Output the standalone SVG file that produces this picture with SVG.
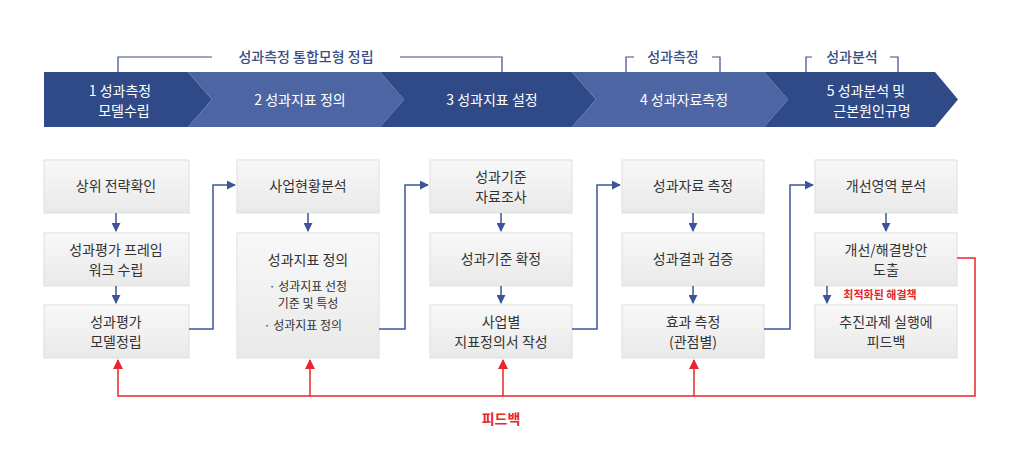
<svg xmlns="http://www.w3.org/2000/svg" width="1032" height="456" viewBox="0 0 1032 456">
<defs>
<linearGradient id="g" x1="0" y1="0" x2="0" y2="1"><stop offset="0" stop-color="#f8f8f8"/><stop offset="1" stop-color="#e9e9e9"/></linearGradient>
<marker id="ab" viewBox="0 0 10 10" refX="9" refY="5" markerWidth="9" markerHeight="9" markerUnits="userSpaceOnUse" orient="auto"><path d="M0,0L10,5L0,10z" fill="#3b5598"/></marker>
<marker id="ar" viewBox="0 0 10 10" refX="9" refY="5" markerWidth="10" markerHeight="10" markerUnits="userSpaceOnUse" orient="auto"><path d="M0,0L10,5L0,10z" fill="#e8262b"/></marker>
</defs>
<style>
text{font-family:"Noto Sans CJK KR","Noto Sans",sans-serif;text-anchor:middle}
.t{font-size:14px;fill:#333}
.s{font-size:12px;fill:#333}
.w{font-size:14px;fill:#fff}
.h{font-size:14px;fill:#3a4e85;font-weight:500}
.box{fill:url(#g);stroke:#dedede;stroke-width:1}
.b{fill:none;stroke:#3b5598;stroke-width:1.5}
.r{fill:none;stroke:#e8262b;stroke-width:1.5}
.br{fill:none;stroke:#3a4e85;stroke-width:1.2}
</style>
<g id="brackets">
<path class="br" d="M118,72V57H212M400,57H502V72"/>
<text class="h" x="306" y="62">성과측정 통합모형 정립</text>
<path class="br" d="M626,72V57H634M712,57H720V72"/>
<text class="h" x="673" y="62">성과측정</text>
<path class="br" d="M806,72V57H812M890,57H898V72"/>
<text class="h" x="852" y="62">성과분석</text>
</g>
<g id="banner">
<path d="M44,72H188L212,99.5L188,127H44Z" fill="#2f4a87"/>
<path d="M188,72H380L404,99.5L380,127H188L212,99.5Z" fill="#4d66a3"/>
<path d="M380,72H572L596,99.5L572,127H380L404,99.5Z" fill="#2f4a87"/>
<path d="M572,72H764L788,99.5L764,127H572L596,99.5Z" fill="#4d66a3"/>
<path d="M764,72H935L958,99.5L935,127H764L788,99.5Z" fill="#2f4a87"/>
<text class="w" x="120" y="96">1 성과측정</text><text class="w" x="124" y="116">모델수립</text>
<text class="w" x="300" y="105">2 성과지표 정의</text>
<text class="w" x="492" y="105">3 성과지표 설정</text>
<text class="w" x="684" y="105">4 성과자료측정</text>
<text class="w" x="866" y="96">5 성과분석 및</text><text class="w" x="872" y="116">근본원인규명</text>
</g>
<g id="n11"><rect class="box" x="44" y="160" width="145" height="53"/><text class="t" x="116" y="191">상위 전략확인</text></g>
<g id="n12"><rect class="box" x="44" y="233" width="145" height="53"/><text class="t" x="116" y="255">성과평가 프레임</text><text class="t" x="116" y="275">워크 수립</text></g>
<g id="n13"><rect class="box" x="44" y="305" width="145" height="53"/><text class="t" x="116" y="327">성과평가</text><text class="t" x="116" y="347">모델정립</text></g>
<g id="n21"><rect class="box" x="237" y="160" width="142" height="53"/><text class="t" x="308" y="191">사업현황분석</text></g>
<g id="n22"><rect class="box" x="237" y="233" width="142" height="125"/><text class="t" x="308" y="265">성과지표 정의</text>
<text class="s" x="308" y="291">· 성과지표 선정</text><text class="s" x="308" y="308">기준 및 특성</text><text class="s" x="303" y="330">· 성과지표 정의</text></g>
<g id="n31"><rect class="box" x="430" y="160" width="142" height="53"/><text class="t" x="501" y="182">성과기준</text><text class="t" x="501" y="202">자료조사</text></g>
<g id="n32"><rect class="box" x="430" y="233" width="142" height="53"/><text class="t" x="501" y="264">성과기준 확정</text></g>
<g id="n33"><rect class="box" x="430" y="305" width="142" height="53"/><text class="t" x="501" y="327">사업별</text><text class="t" x="501" y="347">지표정의서 작성</text></g>
<g id="n41"><rect class="box" x="622" y="160" width="142" height="53"/><text class="t" x="693" y="191">성과자료 측정</text></g>
<g id="n42"><rect class="box" x="622" y="233" width="142" height="53"/><text class="t" x="693" y="264">성과결과 검증</text></g>
<g id="n43"><rect class="box" x="622" y="305" width="142" height="53"/><text class="t" x="693" y="327">효과 측정</text><text class="t" x="693" y="347">(관점별)</text></g>
<g id="n51"><rect class="box" x="815" y="160" width="142" height="53"/><text class="t" x="886" y="191">개선영역 분석</text></g>
<g id="n52"><rect class="box" x="815" y="233" width="142" height="53"/><text class="t" x="886" y="255">개선/해결방안</text><text class="t" x="886" y="275">도출</text></g>
<g id="n53"><rect class="box" x="815" y="305" width="142" height="53"/><text class="t" x="886" y="327">추진과제 실행에</text><text class="t" x="886" y="347">피드백</text></g>
<g id="connectors">
<path class="b" d="M116,213V231" marker-end="url(#ab)"/>
<path class="b" d="M116,286V303" marker-end="url(#ab)"/>
<path class="b" d="M189,329H213V185H235" marker-end="url(#ab)"/>
<path class="b" d="M308,213V231" marker-end="url(#ab)"/>
<path class="b" d="M379,329H405V185H428" marker-end="url(#ab)"/>
<path class="b" d="M501,213V231" marker-end="url(#ab)"/>
<path class="b" d="M501,286V303" marker-end="url(#ab)"/>
<path class="b" d="M572,329H597V185H620" marker-end="url(#ab)"/>
<path class="b" d="M693,213V231" marker-end="url(#ab)"/>
<path class="b" d="M693,286V303" marker-end="url(#ab)"/>
<path class="b" d="M764,329H790V185H813" marker-end="url(#ab)"/>
<path class="b" d="M886,213V231" marker-end="url(#ab)"/>
<path class="b" d="M827,286V303" marker-end="url(#ab)"/>
<text x="880" y="299" style="font-size:11px;fill:#e8262b;font-weight:bold">최적화된 해결책</text>
<path class="r" d="M957,258H975V396H118V360" marker-end="url(#ar)"/>
<path class="r" d="M310,396V360" marker-end="url(#ar)"/>
<path class="r" d="M503,396V360" marker-end="url(#ar)"/>
<path class="r" d="M694,396V360" marker-end="url(#ar)"/>
<text x="501" y="424" style="font-size:14px;fill:#e8262b;font-weight:bold">피드백</text>
</g>
</svg>
